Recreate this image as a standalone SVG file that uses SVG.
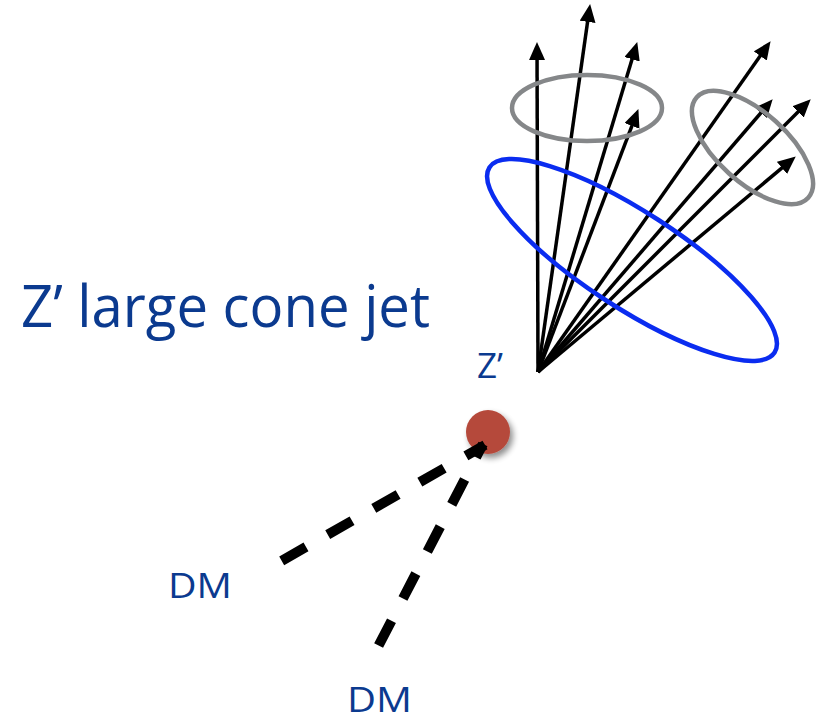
<svg xmlns="http://www.w3.org/2000/svg" width="820" height="722" viewBox="0 0 820 722">
  <style>
    .lbl { font-family: "Open Sans", "Noto Sans", sans-serif; fill: #0b3a8f; }
    .trk { stroke: #000; stroke-width: 3.5; fill: none; marker-end: url(#ah); }
    .dm { stroke: #000; stroke-width: 10; fill: none; stroke-dasharray: 28 25; }
    .sub { fill: none; stroke: #858789; stroke-width: 4.5; }
    .big { fill: none; stroke: #0a2cf0; stroke-width: 4.5; }
  </style>
  <defs>
    <marker id="ah" markerUnits="userSpaceOnUse" markerWidth="19" markerHeight="17" refX="13" refY="8" orient="auto">
      <path d="M0,0 L18,8 L0,16 z" fill="#000"/>
    </marker>
    <filter id="sh" x="-50%" y="-50%" width="200%" height="200%">
      <feGaussianBlur in="SourceAlpha" stdDeviation="3"/>
      <feOffset dx="3" dy="4" result="b"/>
      <feComponentTransfer><feFuncA type="linear" slope="0.45"/></feComponentTransfer>
      <feMerge><feMergeNode/><feMergeNode in="SourceGraphic"/></feMerge>
    </filter>
  </defs>
  <rect width="820" height="722" fill="#fff"/>

  <g id="title">
    <text class="lbl" x="21" y="327" font-size="59" textLength="409" lengthAdjust="spacingAndGlyphs">Z’ large cone jet</text>
  </g>
  <g id="zprime-label">
    <text class="lbl" x="477" y="378" font-size="35" textLength="26" lengthAdjust="spacingAndGlyphs">Z’</text>
  </g>

  <g id="zprime">
    <circle cx="488" cy="432" r="22" fill="#b5493b" filter="url(#sh)"/>
  </g>

  <g id="connectors">
    <line class="dm" x1="485" y1="445" x2="281.7" y2="560.8" stroke-dashoffset="6"/>
    <line class="dm" x1="483" y1="444" x2="378.6" y2="645.6" stroke-dashoffset="13"/>
    <line class="trk" x1="538" y1="372" x2="537" y2="47"/>
    <line class="trk" x1="538" y1="372" x2="589.4" y2="9"/>
    <line class="trk" x1="538" y1="372" x2="635.8" y2="46.8"/>
    <line class="trk" x1="538" y1="372" x2="636.6" y2="113.7"/>
    <line class="trk" x1="538" y1="372" x2="767.7" y2="45.3"/>
    <line class="trk" x1="538" y1="372" x2="769.4" y2="103"/>
    <line class="trk" x1="538" y1="372" x2="807.2" y2="102.8"/>
    <line class="trk" x1="538" y1="372" x2="791.9" y2="159.6"/>
  </g>

  <g id="large-cone">
    <ellipse class="big" cx="632" cy="260" rx="170" ry="48" transform="rotate(33 632 260)"/>
  </g>
  <g id="subjet-1">
    <ellipse class="sub" cx="587" cy="108" rx="75" ry="33"/>
  </g>
  <g id="subjet-2">
    <ellipse class="sub" cx="752.5" cy="147.5" rx="75" ry="35" transform="rotate(42 752.5 147.5)"/>
  </g>

  <g id="dm1">
    <text class="lbl" x="168" y="598" font-size="35" textLength="64" lengthAdjust="spacingAndGlyphs">DM</text>
  </g>
  <g id="dm2">
    <text class="lbl" x="347" y="712" font-size="34" textLength="65" lengthAdjust="spacingAndGlyphs">DM</text>
  </g>
</svg>
